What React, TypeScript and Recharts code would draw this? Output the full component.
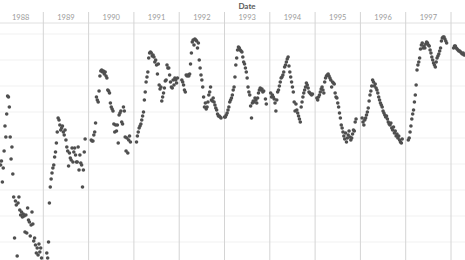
import { ScatterChart, Scatter, XAxis, YAxis, ReferenceLine } from 'recharts'

const N = null

// weekly values, one array per year (index = week of year)
const y1988 = [N, N, N, 77, 81, 60, 74, 91, 116, 105, 128, 146, 145, 135, 105, 83, 95, 68, 45, 4, 41, 37, -14, 39, 45, 32, 27, 30, 25, 28, 26, 10, 27, 9, 34, 22, 20, 6, 17, 30, 18, 1, 4, -3, -11, -6, -13, -2, -10, -6, -16, N]
const y1989 = [N, N, N, N, -11, -16, 0, 39, 55, 63, 69, 74, 77, 85, 90, 99, 110, 124, 122, 117, 112, 114, 116, 110, 107, 112, 102, 95, 91, 76, 89, 84, 82, 94, 80, 90, 94, 87, 80, 80, 95, 72, 87, 79, 77, 55, 72, 90, 103, N, N, N]
const y1990 = [N, N, N, 102, 101, 101, 107, 110, 119, 145, 142, 140, 151, 166, 171, 172, 170, 171, 168, 170, 166, 164, 152, 151, 149, 139, 135, 133, 131, 118, 110, 117, 111, 117, 99, 127, 129, 131, 120, 118, 135, 131, 105, 91, 104, 89, 102, 106, 100, N, N, N]
const y1991 = [N, N, N, 100, 106, 110, 114, 116, 118, 122, 126, 130, 142, 150, 160, 165, 170, 184, 189, 190, 189, 186, 187, 185, 180, 182, 177, 168, 178, 157, 153, 155, 141, 145, 149, 154, 161, 162, 177, 174, 174, 167, 160, 155, 154, 162, 157, 164, 162, 159, 164, N]
const y1992 = [N, N, N, 162, 160, 157, 152, 150, 167, 166, 167, 166, 168, 178, 189, 200, 202, 197, 203, 202, 201, 194, 199, 182, 174, 167, 162, 155, 145, 135, 139, 133, 135, 140, 147, 150, 155, 142, 141, 144, 140, 137, 134, 132, 128, 126, 126, 125, 124, N, N, N]
const y1993 = [125, 125, 127, 129, 132, 135, 140, 142, 144, 147, 152, 155, 165, 177, 184, 192, 195, 194, 192, 191, 190, 185, 180, 178, 174, 170, 164, 155, 150, 147, 136, 124, 139, 141, 140, 144, 142, 139, 144, 149, 152, 154, 152, 153, 150, 151, N, 143, 138, N, N, N]
const y1994 = [N, 149, 145, 147, 145, 143, 139, 131, 142, 150, 152, 156, 160, 164, 165, 167, 170, 175, 177, 180, 183, 185, 176, 170, 165, 160, 155, 150, 140, 131, 138, 132, 129, 126, 123, 120, 135, 140, 145, 149, 152, 155, 159, 157, 154, 150, 149, 148, 147, 148, N, N]
const y1995 = [N, N, 144, 142, 145, 147, 150, 153, 155, 152, 149, 160, 164, 166, 167, 168, 166, 164, 162, 155, 160, 159, 158, 149, 145, 144, 139, 135, 129, 124, 117, 114, 110, 106, 103, 109, 100, 104, 107, 111, 105, 102, 104, 108, 112, 111, 120, 123, N, N, N, N]
const y1996 = [N, N, 124, 120, 117, 122, 124, 127, 130, 134, 141, 147, 151, 156, 162, 160, 156, 158, 154, 152, 149, 145, 142, 139, 137, 135, 131, 129, 127, 125, 126, 123, 120, 118, 117, 119, 114, 112, 115, 109, 111, 106, 108, 104, 106, 102, 100, 99, 103, N, N, N]
const y1997 = [N, N, N, 102, 104, 110, 116, 123, 128, 132, 140, 147, 157, 172, 177, 180, 184, 193, 197, 199, 194, 196, 194, 198, 200, 199, 197, 196, 192, 189, 185, 182, 179, 177, 175, 180, 184, 186, 188, 191, 194, 201, 204, 205, 205, 203, 201, 199, N, N, N, N]
const y1998 = [N, N, N, 194, 196, 196, 194, 193, 192, 191, 191, 190, 189, 188, 189, 187]

const years: [number, (number | null)[]][] = [
  [1988, y1988], [1989, y1989], [1990, y1990], [1991, y1991], [1992, y1992],
  [1993, y1993], [1994, y1994], [1995, y1995], [1996, y1996], [1997, y1997], [1998, y1998],
]

const yearBounds = [1989, 1990, 1991, 1992, 1993, 1994, 1995, 1996, 1997, 1998]
const yearLabels = [1988, 1989, 1990, 1991, 1992, 1993, 1994, 1995, 1996, 1997]
const gridValues = [0, 26, 52, 78, 104, 130, 156, 182, 208]

const points = years.flatMap(([yr, vals]) =>
  vals.flatMap((v, i) => (v === null ? [] : [{ date: yr + i / 52, value: v }]))
)

const font = 'Lato, "Open Sans", sans-serif'

function YearTick(props: any) {
  const { x, payload } = props
  return (
    <text x={x} y={20} textAnchor="middle" fontSize={7.5} fill="#9b9b9b" fontFamily={font}>
      {Math.floor(payload.value)}
    </text>
  )
}

function Dot(props: any) {
  const { cx, cy } = props
  return <circle cx={cx} cy={cy} r={1.8} fill="#4f4f4f" />
}

export default function App() {
  return (
    <div style={{ position: 'relative', width: 465, height: 260, background: '#fff' }}>
      <style>{'body{margin:0}'}</style>
      <div
        style={{
          position: 'absolute', left: 247, top: 1, transform: 'translateX(-50%)',
          fontFamily: font, fontSize: 8, fontWeight: 700, color: '#5a5a5a', lineHeight: '11px',
        }}
      >
        Date
      </div>
      <ScatterChart width={465} height={260} margin={{ top: 0, right: 0, bottom: 0, left: 0 }}>
        <XAxis
          type="number" dataKey="date" orientation="top" height={12}
          domain={[1988.044, 1998.309]} allowDataOverflow
          ticks={yearLabels.map(y => y + 0.5)} interval={0}
          tick={<YearTick />} axisLine={false} tickLine={false}
        />
        <YAxis type="number" dataKey="value" hide domain={[-18, 230]} allowDataOverflow />
        {gridValues.map(v => (
          <ReferenceLine key={'g' + v} y={v} stroke="#f1f1f1" />
        ))}
        <ReferenceLine y={219} stroke="#e0e0e0" />
        {yearBounds.map(b => (
          <ReferenceLine key={'b' + b} x={b} stroke="#d4d4d4" />
        ))}
        <Scatter data={points} shape={<Dot />} isAnimationActive={false} />
      </ScatterChart>
    </div>
  )
}
